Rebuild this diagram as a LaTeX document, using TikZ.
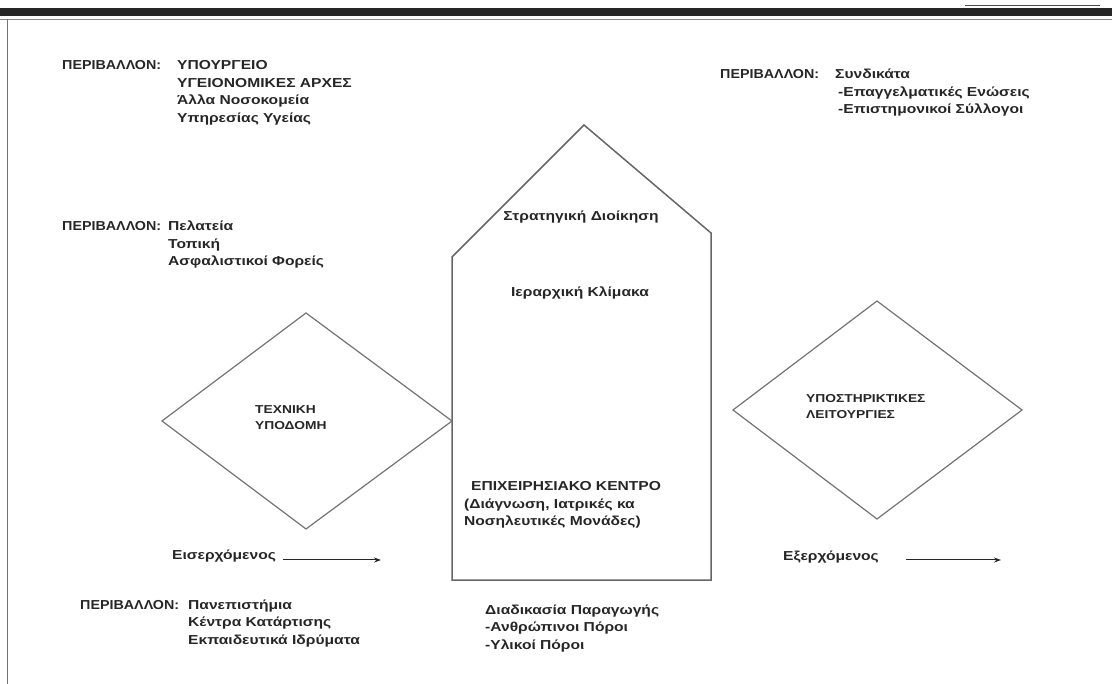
\documentclass[tikz,border=0pt]{standalone}
\usepackage{fontspec}
\setmainfont{Liberation Sans}[FakeStretch=1.2]
\newfontfamily\lblfont{Liberation Sans}[FakeStretch=1.1]
\usetikzlibrary{positioning,arrows.meta}

\begin{document}
\begin{tikzpicture}[x=1pt, y=-1pt, >={Stealth[length=7pt,width=5pt]},
		font=\fontsize{13}{17.5}\selectfont\bfseries, text=black!85,
		txt/.style={inner sep=0pt, anchor=base west, font=\fontsize{13}{17.5}\lblfont\bfseries},
		lst/.style={inner sep=0pt, anchor=base west},
		small/.style={inner sep=0pt, anchor=base west, font=\fontsize{11.5}{15.5}\selectfont\bfseries},
		shp/.style={draw=black!55, line width=1.2pt, line join=miter}]
		\useasboundingbox (0,0) rectangle (1112,684);
		% page frame
		\fill[black!85] (0,8) rectangle (1112,16);
		\draw[black!70, line width=0.8pt] (965,5) -- (1100,5);
		\draw[black!45, line width=0.6pt] (0,19) -- (1112,19);
		\draw[black!55, line width=1pt] (7,19) -- (7,684);
		% house and diamonds
		\draw[shp, draw=black!60, line width=1.5pt] (452,580) -- (452,257) -- (584,125) -- (711,233) -- (711,580) -- cycle;
		\draw[shp] (162,421) -- (306,313) -- (452,421) -- (306,529) -- cycle;
		\draw[shp] (733,410) -- (877,301) -- (1022,410) -- (877,519) -- cycle;
		% environment blocks
		\node[txt] (E1) at (62,70) {ΠΕΡΙΒΑΛΛΟΝ:};
		\node[lst] (L1) at (177,70) {\begin{tabular}[t]{@{}l@{}}ΥΠΟΥΡΓΕΙΟ\\ΥΓΕΙΟΝΟΜΙΚΕΣ ΑΡΧΕΣ\\Άλλα Νοσοκομεία\\Υπηρεσίας Υγείας\end{tabular}};
		\node[txt] (E2) at (720,79) {ΠΕΡΙΒΑΛΛΟΝ:};
		\node[lst] (L2) at (835,79) {\begin{tabular}[t]{@{}l@{}}Συνδικάτα\\\hspace*{3pt}-Επαγγελματικές Ενώσεις\\\hspace*{3pt}-Επιστημονικοί Σύλλογοι\end{tabular}};
		\node[txt] (E3) at (62,231) {ΠΕΡΙΒΑΛΛΟΝ:};
		\node[lst] (L3) at (168,231) {\begin{tabular}[t]{@{}l@{}}Πελατεία\\Τοπική\\Ασφαλιστικοί Φορείς\end{tabular}};
		\node[txt] (E4) at (80,609) {ΠΕΡΙΒΑΛΛΟΝ:};
		\node[lst] (L4) at (188,609) {\begin{tabular}[t]{@{}l@{}}Πανεπιστήμια\\Κέντρα Κατάρτισης\\Εκπαιδευτικά Ιδρύματα\end{tabular}};
		% inside the house
		\node (S) at (581,217) {Στρατηγική Διοίκηση};
		\node (H) at (580,293) {Ιεραρχική Κλίμακα};
		\node[lst] (C) at (464,491) {\begin{tabular}[t]{@{}l@{}}\hspace*{7pt}ΕΠΙΧΕΙΡΗΣΙΑΚΟ ΚΕΝΤΡΟ\\(Διάγνωση, Ιατρικές κα\\Νοσηλευτικές Μονάδες)\end{tabular}};
		\node[lst] (P) at (485,614) {\begin{tabular}[t]{@{}l@{}}Διαδικασία Παραγωγής\\-Ανθρώπινοι Πόροι\\-Υλικοί Πόροι\end{tabular}};
		% diamonds
		\node[small] (T) at (255,414) {\begin{tabular}[t]{@{}l@{}}ΤΕΧΝΙΚΗ\\ΥΠΟΔΟΜΗ\end{tabular}};
		\node[small] (U) at (806,403) {\begin{tabular}[t]{@{}l@{}}ΥΠΟΣΤΗΡΙΚΤΙΚΕΣ\\ΛΕΙΤΟΥΡΓΙΕΣ\end{tabular}};
		% flows
		\node[lst] (In) at (172,560) {Εισερχόμενος};
		\coordinate (in1) at (283,560);
		\coordinate (in2) at (381,560);
		\draw[->, black!85, line width=1pt] (in1) -- (in2);
		\node[lst] (Out) at (783,561) {Εξερχόμενος};
		\coordinate (out1) at (906,560);
		\coordinate (out2) at (1001,560);
		\draw[->, black!85, line width=1pt] (out1) -- (out2);
	\end{tikzpicture}
\end{document}
